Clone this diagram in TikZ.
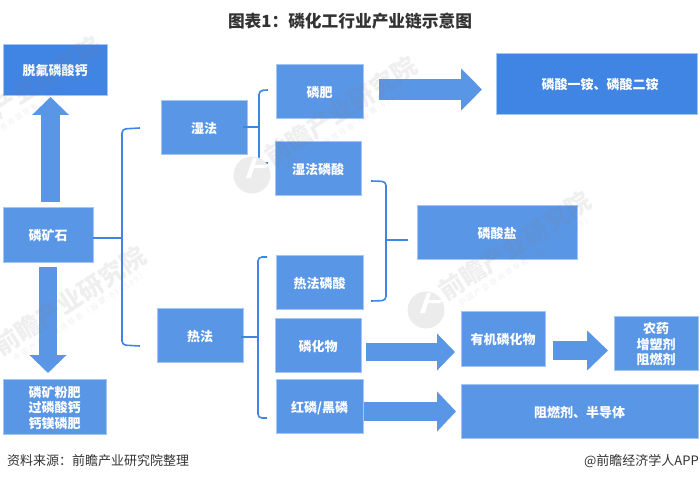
\documentclass[tikz,border=0pt]{standalone}
\usepackage{fontspec}
\usetikzlibrary{arrows.meta}
\setmainfont{Noto Sans CJK SC}
\definecolor{boxblue}{HTML}{5A96E6}
\definecolor{deepblue}{HTML}{4084E4}
\definecolor{edgeblue}{HTML}{A5C6F2}
\definecolor{linkblue}{HTML}{3F85E6}
\definecolor{inkdark}{HTML}{333333}
\tikzset{
  x=1pt,y=-1pt,
  bx/.style={fill=boxblue,draw=edgeblue,line width=.6pt,text=white,font=\fontsize{13}{14.2}\selectfont\bfseries,inner sep=0pt},
  deep/.style={fill=deepblue},
  bracket/.style={draw=linkblue,line width=1.6pt,rounded corners=4pt},
  blockh/.style n args={3}{draw=boxblue,line width=#1pt,-{Triangle[length=#2pt,width=#3pt,fill=boxblue]}},
  wmtext/.style={text=gray,opacity=.13,font=\fontsize{25}{27}\selectfont\bfseries,rotate=33,inner sep=0pt},
  wmsub/.style={text=gray,opacity=.13,font=\fontsize{7.5}{9}\selectfont,rotate=33,inner sep=0pt},
}
\newcommand{\bxat}[7][]{\node[bx,#1,minimum width=#4pt-#2pt,minimum height=#5pt-#3pt] (#6) at ({(#2+#4)/2},{(#3+#5)/2}) {\raisebox{-3pt}[\height][\depth]{\begin{tabular}{@{}c@{}}#7\end{tabular}}};}
\newcommand{\wg}{\hspace{1.7pt}}
\begin{document}
\begin{tikzpicture}
\useasboundingbox (0,0) rectangle (700,481);
% boxes
\bxat[deep]{3}{44}{107}{95}{fluoro}{脱氟磷酸钙}
\bxat{3}{207}{93}{262}{ore}{磷矿石}
\bxat{3}{379}{106}{434}{ferts}{磷矿粉肥\\过磷酸钙\\钙镁磷肥}
\bxat{161}{100}{247}{154}{wet}{湿法}
\bxat{157}{308}{243}{362}{hot}{热法}
\bxat{276}{64}{363}{118}{pfert}{磷肥}
\bxat{275}{141}{361}{195}{wetacid}{湿法磷酸}
\bxat[deep]{496}{53}{697}{114}{amm}{\hspace*{7pt}磷酸一铵、磷酸二铵}
\bxat{417}{205}{577}{259}{salt}{磷酸盐}
\bxat{276}{255}{363}{309}{hotacid}{热法磷酸}
\bxat{275}{318}{361}{372}{phos}{磷化物}
\bxat{276}{379}{363}{433}{red}{红磷/黑磷}
\bxat{461}{311}{545}{366}{org}{有机磷化物}
\bxat{614}{316}{698}{370}{agro}{农药\\增塑剂\\阻燃剂}
\bxat{461}{384}{698}{438}{semi}{阻燃剂、半导体}
% block arrows
\coordinate (u1) at (50.5,202); \coordinate (u2) at (50.5,97);
\coordinate (d1) at (48,267);  \coordinate (d2) at (48,373);
\coordinate (r1) at (379,89.5); \coordinate (r2) at (482,89.5);
\coordinate (p1) at (366,352); \coordinate (p2) at (455,352);
\coordinate (o1) at (553,350.5); \coordinate (o2) at (608,350.5);
\coordinate (s1) at (364,411.5); \coordinate (s2) at (456,411.5);
\draw[blockh={19}{18}{36}] (u1) -- (u2);
\draw[blockh={18}{18}{36}] (d1) -- (d2);
\draw[blockh={21}{21}{41}] (r1) -- (r2);
\draw[blockh={18}{18}{36}] (p1) -- (p2);
\draw[blockh={19}{21}{39}] (o1) -- (o2);
\draw[blockh={19}{19}{39}] (s1) -- (s2);
% brackets
\coordinate (b1t) at (140,128); \coordinate (b1b) at (140,346);
\coordinate (b1m) at (122,238);
\draw[bracket] (b1t) -- (122,129) -- (122,345) -- (b1b);
\draw[bracket] (ore.east |- b1m) -- (b1m);
\coordinate (b2t) at (268,90); \coordinate (b2b) at (268,163);
\coordinate (b2m) at (259,127);
\draw[bracket] (b2t) -- (259,90.5) -- (259,162.5) -- (b2b);
\draw[bracket] (wet.east |- b2m) ++(-4,0) -- (b2m);
\coordinate (b3t) at (267,257); \coordinate (b3b) at (267,418);
\coordinate (b3m) at (258,337);
\draw[bracket] (b3t) -- (258,257) -- (258,418) -- (b3b);
\draw[bracket] (hot.east |- b3m) ++(-2,0) -- (b3m);
\coordinate (b4t) at (371,181); \coordinate (b4b) at (371,301);
\coordinate (b4m) at (386,240); \coordinate (b4r) at (408,240);
\draw[bracket] (b4t) -- (386,181.5) -- (386,300.5) -- (b4b);
\draw[bracket] (b4m) -- (b4r);
% watermarks
\foreach \dx/\dy/\n in {0/0/a,-174/-135/b,-445/55/c,-490/-155/d}{
  \begin{scope}[shift={(\dx,\dy)}]
    \node[wmtext] (wm\n) at (515,246) {前瞻产业研究院};
    \node[wmsub] (ws\n) at (525,261) {中\wg 国\wg 产\wg 业\wg 咨\wg 询\wg 领\wg 导\wg 者\wg （\wg 股\wg 票\wg :\wg 8\wg 3\wg 9\wg 5\wg 9\wg 9\wg ）};
  \end{scope}
}
\foreach \lx/\ly in {426/310,252/175}{
  \fill[gray!15] (\lx,\ly) circle (18.5);
  \fill[white] (\lx-6,\ly+3) -- (\lx+1,\ly-17) -- (\lx+5,\ly-17) -- (\lx-1,\ly+3) -- cycle;
  \fill[white] (\lx+2,\ly-10) -- (\lx+17,\ly-10) -- (\lx+14,\ly-7) -- (\lx+2,\ly-7) -- cycle;
}
% titles
\node[text=inkdark,font=\fontsize{16.7}{18}\selectfont\bfseries,inner sep=0pt] (title) at (350,21) {图表1：磷化工行业产业链示意图};
\node[text=inkdark,font=\fontsize{13}{14}\selectfont,inner sep=0pt,anchor=west] (source) at (7,461) {资料来源：前瞻产业研究院整理};
\node[text=inkdark,font=\fontsize{13}{14}\selectfont,inner sep=0pt,anchor=east] (brand) at (699,461) {@前瞻经济学人APP};
\end{tikzpicture}
\end{document}
